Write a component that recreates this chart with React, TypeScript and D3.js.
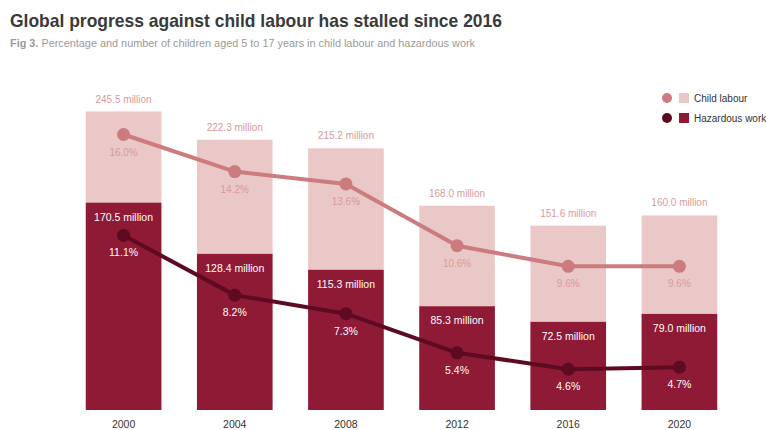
import React from "react";
import * as d3 from "d3";

const years = ["2000", "2004", "2008", "2012", "2016", "2020"];
const childLabourMillions = [245.5, 222.3, 215.2, 168.0, 151.6, 160.0];
const hazardousMillions = [170.5, 128.4, 115.3, 85.3, 72.5, 79.0];
const childLabourPct = [16.0, 14.2, 13.6, 10.6, 9.6, 9.6];
const hazardousPct = [11.1, 8.2, 7.3, 5.4, 4.6, 4.7];
const legendLabels = ["Child labour", "Hazardous work"];

const W = 766, H = 430;
const LIGHT_BAR = "#eac8c8";
const DARK_BAR = "#8e1a36";
const LIGHT_LINE = "#cc7b7e";
const DARK_LINE = "#5e0a20";
const LIGHT_TEXT = "#d99a9c";

export default function App() {
  const x = d3.scaleBand<string>().domain(years).range([68, 735]).paddingInner(0.32).paddingOuter(0.16);
  const yM = d3.scaleLinear().domain([0, 245.5]).range([410, 111.5]);
  const yP = d3.scaleLinear().domain([0, 16]).range([464, 134.5]);
  const cx = (y: string) => (x(y) as number) + x.bandwidth() / 2;

  const line = d3.line<number>().x((_, i) => cx(years[i])).y((d) => yP(d));

  return (
    <svg width={W} height={H} style={{ position: "absolute", left: 0, top: 0, background: "#fff" }}
      fontFamily="'Liberation Sans', Arial, Helvetica, sans-serif">
      <text x={10} y={27} fontSize={19} fontWeight="bold" fill="#3a3a3a" textLength={492} lengthAdjust="spacingAndGlyphs">
        Global progress against child labour has stalled since 2016
      </text>
      <text x={10} y={47} fontSize={11} fill="#9a9a9a" textLength={465} lengthAdjust="spacingAndGlyphs">
        <tspan fontWeight="bold">Fig 3.</tspan> Percentage and number of children aged 5 to 17 years in child labour and hazardous work
      </text>

      {years.map((yr, i) => (
        <g key={yr}>
          <rect x={x(yr)} y={yM(childLabourMillions[i])} width={x.bandwidth()}
            height={yM(0) - yM(childLabourMillions[i])} fill={LIGHT_BAR} />
          <rect x={x(yr)} y={yM(hazardousMillions[i])} width={x.bandwidth()}
            height={yM(0) - yM(hazardousMillions[i])} fill={DARK_BAR} />
          <text x={cx(yr)} y={yM(childLabourMillions[i]) - 9} textAnchor="middle" fontSize={10} fill={LIGHT_TEXT}>
            {childLabourMillions[i].toFixed(1)} million
          </text>
          <text x={cx(yr)} y={yM(hazardousMillions[i]) + 18} textAnchor="middle" fontSize={10.5} fill="#fff">
            {hazardousMillions[i].toFixed(1)} million
          </text>
          <text x={cx(yr)} y={428} textAnchor="middle" fontSize={10.5} fill="#333">{yr}</text>
        </g>
      ))}

      <path d={line(childLabourPct) || ""} fill="none" stroke={LIGHT_LINE} strokeWidth={4} strokeLinejoin="round" />
      <path d={line(hazardousPct) || ""} fill="none" stroke={DARK_LINE} strokeWidth={4} strokeLinejoin="round" />

      {years.map((yr, i) => (
        <g key={"p" + yr}>
          <circle cx={cx(yr)} cy={yP(childLabourPct[i])} r={6.5} fill={LIGHT_LINE} />
          <text x={cx(yr)} y={yP(childLabourPct[i]) + 21} textAnchor="middle" fontSize={10} fill={LIGHT_TEXT}>
            {childLabourPct[i].toFixed(1)}%
          </text>
          <circle cx={cx(yr)} cy={yP(hazardousPct[i])} r={6.5} fill={DARK_LINE} />
          <text x={cx(yr)} y={yP(hazardousPct[i]) + 21} textAnchor="middle" fontSize={10.5} fill="#fff">
            {hazardousPct[i].toFixed(1)}%
          </text>
        </g>
      ))}

      {legendLabels.map((lab, i) => (
        <g key={lab} transform={`translate(0, ${98 + i * 20})`}>
          <circle cx={667} cy={0} r={5} fill={i === 0 ? LIGHT_LINE : DARK_LINE} />
          <rect x={679} y={-5} width={10} height={10} fill={i === 0 ? LIGHT_BAR : DARK_BAR} />
          <text x={694} y={3.5} fontSize={10} fill="#333">{lab}</text>
        </g>
      ))}
    </svg>
  );
}
